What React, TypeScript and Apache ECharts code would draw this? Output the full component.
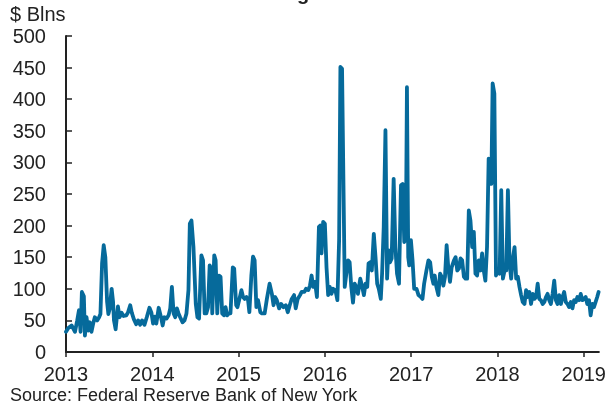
import { useEffect, useRef } from "react";
import * as echarts from "echarts";

// Offsets in years from the start of 2013 (weekly-ish observations)
const yearOffsets = [
  0.000, 0.027, 0.065, 0.104, 0.130, 0.150, 0.169, 0.184, 0.207, 0.219, 0.238, 0.257, 0.276, 0.295, 0.315,
  0.334, 0.361, 0.384, 0.399, 0.418, 0.437, 0.456, 0.476, 0.491, 0.506, 0.529, 0.545, 0.556, 0.575, 0.602,
  0.621, 0.644, 0.667, 0.698, 0.717, 0.744, 0.763, 0.786, 0.813, 0.836, 0.859, 0.882, 0.909, 0.936, 0.967,
  0.990, 1.009, 1.028, 1.047, 1.074, 1.101, 1.120, 1.139, 1.166, 1.189, 1.208, 1.227, 1.247, 1.266, 1.285,
  1.304, 1.323, 1.350, 1.373, 1.396, 1.419, 1.435, 1.454, 1.477, 1.504, 1.523, 1.542, 1.569, 1.588, 1.607,
  1.626, 1.646, 1.665, 1.684, 1.695, 1.718, 1.734, 1.753, 1.772, 1.791, 1.810, 1.830, 1.849, 1.868, 1.887,
  1.906, 1.933, 1.949, 1.972, 1.987, 2.010, 2.033, 2.052, 2.071, 2.091, 2.110, 2.125, 2.148, 2.167, 2.186,
  2.206, 2.225, 2.252, 2.271, 2.302, 2.328, 2.359, 2.386, 2.405, 2.424, 2.443, 2.470, 2.493, 2.520, 2.547,
  2.570, 2.597, 2.616, 2.643, 2.662, 2.685, 2.712, 2.731, 2.762, 2.781, 2.808, 2.827, 2.846, 2.865, 2.885,
  2.908, 2.931, 2.946, 2.961, 2.980, 3.000, 3.019, 3.038, 3.057, 3.076, 3.096, 3.122, 3.145, 3.165, 3.180,
  3.199, 3.230, 3.249, 3.268, 3.287, 3.306, 3.326, 3.345, 3.364, 3.383, 3.410, 3.433, 3.452, 3.471, 3.491,
  3.506, 3.525, 3.544, 3.567, 3.587, 3.606, 3.625, 3.648, 3.663, 3.682, 3.702, 3.721, 3.736, 3.755, 3.774,
  3.797, 3.817, 3.836, 3.859, 3.882, 3.901, 3.920, 3.939, 3.951, 3.966, 3.978, 3.997, 4.016, 4.035, 4.062,
  4.085, 4.112, 4.131, 4.150, 4.177, 4.200, 4.220, 4.239, 4.258, 4.273, 4.292, 4.315, 4.335, 4.354, 4.373,
  4.392, 4.411, 4.430, 4.450, 4.469, 4.496, 4.515, 4.534, 4.553, 4.572, 4.591, 4.611, 4.630, 4.649, 4.668,
  4.687, 4.707, 4.726, 4.745, 4.764, 4.783, 4.802, 4.822, 4.841, 4.860, 4.879, 4.898, 4.914, 4.929, 4.944,
  4.964, 4.983, 5.002, 5.025, 5.044, 5.063, 5.083, 5.102, 5.121, 5.140, 5.159, 5.178, 5.198, 5.217, 5.236,
  5.255, 5.274, 5.293, 5.313, 5.332, 5.351, 5.370, 5.389, 5.409, 5.428, 5.447, 5.466, 5.485, 5.504, 5.524,
  5.543, 5.562, 5.581, 5.600, 5.619, 5.639, 5.658, 5.677, 5.696, 5.715, 5.735, 5.754, 5.773, 5.792, 5.811,
  5.830, 5.850, 5.869, 5.888, 5.907, 5.926, 5.946, 5.965, 5.984, 6.003, 6.022, 6.041, 6.061, 6.080, 6.099,
  6.118, 6.137, 6.156, 6.172,
];

// Values in $ billions
const fails = [
  32, 38, 42, 32, 50, 66, 32, 95, 88, 26, 55, 34, 47, 32, 45,
  55, 50, 55, 60, 140, 169, 150, 80, 60, 68, 100, 80, 50, 36, 72,
  55, 62, 57, 58, 62, 74, 62, 52, 44, 50, 43, 50, 43, 55, 70,
  62, 45, 56, 45, 70, 55, 42, 55, 53, 58, 69, 103, 61, 55, 69,
  61, 55, 47, 50, 61, 98, 203, 208, 166, 76, 55, 53, 153, 145, 61,
  61, 71, 137, 132, 61, 153, 145, 61, 121, 119, 61, 58, 71, 58, 61,
  61, 134, 132, 74, 71, 84, 98, 87, 84, 87, 82, 63, 121, 151, 145,
  71, 82, 63, 61, 61, 84, 108, 92, 74, 87, 82, 69, 76, 71, 74,
  63, 76, 84, 90, 69, 84, 90, 95, 95, 100, 98, 105, 121, 103, 111,
  87, 198, 200, 156, 206, 203, 134, 90, 103, 92, 100, 98, 82, 177, 451,
  448, 103, 124, 145, 142, 103, 78, 108, 103, 92, 116, 103, 90, 108, 103,
  140, 142, 129, 187, 150, 108, 100, 84, 124, 198, 351, 116, 161, 142, 148,
  274, 166, 124, 108, 264, 266, 174, 182, 419, 150, 137, 177, 145, 100, 100,
  90, 87, 84, 108, 129, 145, 142, 119, 108, 121, 103, 90, 124, 119, 105,
  119, 169, 134, 111, 134, 145, 150, 129, 132, 148, 145, 119, 116, 116, 224,
  208, 166, 190, 124, 121, 145, 129, 156, 129, 113, 166, 306, 282, 266, 425,
  409, 121, 129, 124, 256, 116, 129, 129, 256, 140, 116, 148, 166, 116, 119,
  103, 90, 79, 76, 98, 87, 95, 76, 92, 84, 87, 108, 84, 82, 76,
  79, 87, 92, 82, 76, 92, 113, 82, 76, 90, 76, 87, 95, 79, 76,
  71, 79, 69, 82, 79, 87, 82, 92, 82, 84, 87, 76, 82, 58, 76,
  71, 79, 87, 95,
];

const startYear = 2013;
const yearTicks = [2013, 2014, 2015, 2016, 2017, 2018, 2019];
const unitLabel = "$ Blns";
const sourceLabel = "Source: Federal Reserve Bank of New York";
const titleFragment = "g";

const FONT = "Liberation Sans, Arial, sans-serif";
const INK = "#222222";

export default function App() {
  const ref = useRef<HTMLDivElement>(null);
  useEffect(() => {
    if (!ref.current) return;
    const chart = echarts.init(ref.current, null, { renderer: "svg" });
    const data = yearOffsets.map((o, i) => [startYear + o, fails[i]]);
    chart.setOption({
      animation: false,
      grid: { left: 66, right: 7, top: 36, bottom: 52, containLabel: false },
      xAxis: {
        type: "value",
        min: 2013,
        max: 2019.175,
        interval: 1,
        axisLine: { show: true, onZero: false, lineStyle: { color: INK, width: 2 } },
        axisTick: {
          show: true,
          length: 5,
          customValues: yearTicks,
          lineStyle: { color: INK, width: 1.5 },
        },
        axisLabel: {
          customValues: yearTicks,
          formatter: (v: number) => String(Math.round(v)),
          fontSize: 20,
          fontFamily: FONT,
          color: INK,
          margin: 12,
        },
        splitLine: { show: false },
      },
      yAxis: {
        type: "value",
        min: 0,
        max: 500,
        interval: 50,
        axisLine: { show: true, lineStyle: { color: INK, width: 2 } },
        axisTick: { show: true, inside: true, length: 6, lineStyle: { color: INK, width: 1.5 } },
        axisLabel: { fontSize: 20, fontFamily: FONT, color: INK, margin: 20 },
        splitLine: { show: false },
      },
      series: [
        {
          type: "line",
          data,
          symbol: "none",
          showSymbol: false,
          lineStyle: { color: "#066a9b", width: 3.8, cap: "round", join: "round" },
        },
      ],
      graphic: [
        {
          type: "text",
          x: 10,
          y: 4,
          style: { text: unitLabel, font: `20px ${FONT}`, fill: INK },
        },
        {
          type: "text",
          x: 10,
          y: 386,
          style: { text: sourceLabel, font: `18px ${FONT}`, fill: INK },
        },
        {
          type: "text",
          x: 297,
          y: -17,
          style: { text: titleFragment, font: `bold 20px ${FONT}`, fill: INK },
        },
      ],
    });
    return () => chart.dispose();
  }, []);
  return (
    <div
      ref={ref}
      style={{ position: "fixed", left: 0, top: 0, width: 609, height: 404 }}
    />
  );
}
